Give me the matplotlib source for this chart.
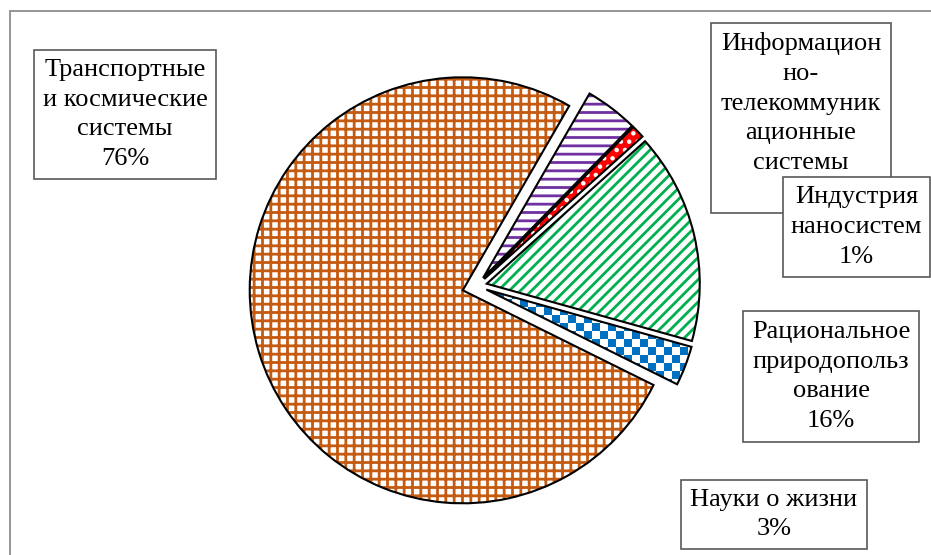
import numpy as np
import matplotlib.pyplot as plt
from matplotlib.colors import ListedColormap
from matplotlib.patches import Rectangle

plt.rcParams['font.family'] = ['Liberation Serif', 'DejaVu Serif']
plt.rcParams['hatch.linewidth'] = 2.0

# shares of each direction, counter-clockwise from the top edge of the big slice
names = ['Транспортные\nи космические\nсистемы', 'Науки о жизни',
         'Рациональное\nприродопольз\nование', 'Индустрия\nнаносистем',
         'Информацион\nно-\nтелекоммуник\nационные\nсистемы']
shares = [76, 3, 16, 1, 4]
fills = ['white', 'white', 'white', '#FF0000', 'white']
hatch_colors = ['#C55A11', '#0070C0', '#00B050', 'white', '#7030A0']
hatches = ['++', None, '///', '..', '--']
explode = [0.07, 0.047, 0.047, 0.047, 0.047]

W, H = 931, 555
fig = plt.figure(figsize=(W / 100, H / 100), dpi=100)
ax = fig.add_axes([0, 0, 1, 1])

center = (477, H - 286)
radius = 213
# pie() offsets slices in data units, so scale by the radius
offsets = [e * radius for e in explode]

# hatched fills first, black outlines on top
wedges, _ = ax.pie(shares, explode=offsets, startangle=60, counterclock=True,
                   radius=radius, center=center, colors=fills,
                   wedgeprops=dict(linewidth=0), frame=True)
for w, hc, h in zip(wedges, hatch_colors, hatches):
    w.set_edgecolor(hc)
    w.set_hatch(h)

# checkerboard for the small blue slice
cell = 8
ny, nx = H // cell + 1, W // cell + 1
board = np.indices((ny, nx)).sum(axis=0) % 2
img = ax.imshow(board, cmap=ListedColormap(['white', '#0070C0']),
                extent=(0, nx * cell, 0, ny * cell), interpolation='nearest',
                zorder=1.5)
img.set_clip_path(wedges[1])

outlines, _ = ax.pie(shares, explode=offsets, startangle=60, counterclock=True,
                     radius=radius, center=center,
                     wedgeprops=dict(fill=False, edgecolor='black', linewidth=1.5),
                     frame=True)
for w in outlines:
    w.set_zorder(2)

# chart area border
ax.add_patch(Rectangle((10, -20), W + 20, H - 11 + 20, fill=False,
                       edgecolor='#8c8c8c', linewidth=1.3, zorder=2))


def label_box(x0, y0, x1, y1, text, z):
    ax.add_patch(Rectangle((x0, H - y1), x1 - x0, y1 - y0, facecolor='white',
                           edgecolor='#595959', linewidth=1.2, zorder=z))
    ax.text((x0 + x1) / 2, H - (y0 + y1) / 2, text, ha='center', va='center',
            fontsize=19, linespacing=1.45, zorder=z + 0.1)


texts = [f'{n}\n{s}%' for n, s in zip(names, shares)]
label_box(34, 50, 216, 179, texts[0], 3)
label_box(681, 480, 867, 549, texts[1], 3)
label_box(743, 311, 919, 442, texts[2], 3)
label_box(711, 23, 891, 213, texts[4], 3)
# the nanosystems box sits over the bottom of the ICT box
label_box(783, 177, 930, 277, texts[3], 5)

ax.set_xlim(0, W)
ax.set_ylim(0, H)
ax.set_aspect('auto')
ax.axis('off')

fig.savefig('out.png', dpi=100)
